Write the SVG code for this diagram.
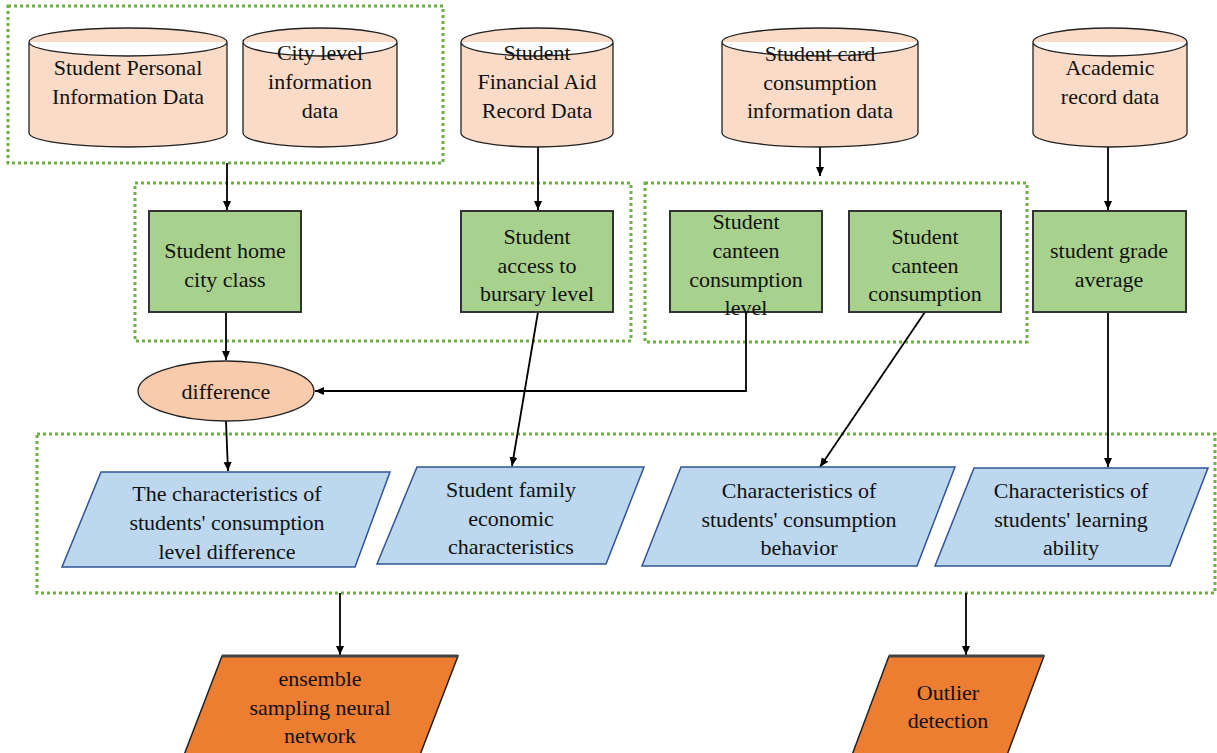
<svg xmlns="http://www.w3.org/2000/svg" width="1217" height="753" viewBox="0 0 1217 753">
<defs>
<marker id="ah" markerWidth="10" markerHeight="10" refX="9" refY="5" orient="auto" markerUnits="userSpaceOnUse">
<path d="M0,1 L9,5 L0,9 Z" fill="#000"/>
</marker>
<style>
text{font-family:"Liberation Serif","Times New Roman",serif;font-size:22px;fill:#111;text-anchor:middle}
.cyl{fill:#fadbc7;stroke:#222;stroke-width:1.3}
.grn{fill:#a9d18e;stroke:#333;stroke-width:2}
.blu{fill:#bdd7ee;stroke:#2f5597;stroke-width:1.5}
.org{fill:#ed7d31;stroke:#222;stroke-width:1.5}
.grp{fill:none;stroke:#70ad47;stroke-width:3;stroke-dasharray:3 3}
.ell{fill:#f8cbad;stroke:#222;stroke-width:1.3}
.cn{fill:none;stroke:#000;stroke-width:1.8}
</style>
</defs>
<rect width="1217" height="753" fill="#fff"/>

<g id="groups">
<rect class="grp" x="8" y="6" width="435" height="157"/>
<rect class="grp" x="135" y="183" width="496" height="158"/>
<rect class="grp" x="645" y="183" width="382" height="159"/>
<rect class="grp" x="37" y="434" width="1178" height="159"/>
</g>

<g id="connectors">
<line class="cn" x1="227" y1="163" x2="227" y2="210" marker-end="url(#ah)"/>
<line class="cn" x1="538" y1="147" x2="538" y2="210" marker-end="url(#ah)"/>
<line class="cn" x1="820" y1="147" x2="820" y2="176" marker-end="url(#ah)"/>
<line class="cn" x1="1108" y1="147" x2="1108" y2="210" marker-end="url(#ah)"/>
<line class="cn" x1="226" y1="312" x2="226" y2="360" marker-end="url(#ah)"/>
<polyline class="cn" points="746,312 746,391 315,391" marker-end="url(#ah)"/>
<line class="cn" x1="538" y1="312" x2="512" y2="466" marker-end="url(#ah)"/>
<line class="cn" x1="925" y1="312" x2="820" y2="467" marker-end="url(#ah)"/>
<line class="cn" x1="1108" y1="312" x2="1108" y2="467" marker-end="url(#ah)"/>
<line class="cn" x1="226" y1="421" x2="228" y2="471" marker-end="url(#ah)"/>
<line class="cn" x1="340" y1="593" x2="340" y2="655" marker-end="url(#ah)"/>
<line class="cn" x1="966" y1="593" x2="966" y2="655" marker-end="url(#ah)"/>
</g>

<g id="n-personal">
<path class="cyl" d="M29,42 A99,14 0 0 1 227,42 V133 A99,14 0 0 1 29,133 Z M29,42 A99,14 0 0 0 227,42"/>
<text x="128" y="75">Student Personal</text>
<text x="128" y="104">Information Data</text>
</g>
<g id="n-city">
<path class="cyl" d="M243,42 A77,14 0 0 1 397,42 V133 A77,14 0 0 1 243,133 Z M243,42 A77,14 0 0 0 397,42"/>
<text x="320" y="60">City level</text>
<text x="320" y="89">information</text>
<text x="320" y="118">data</text>
</g>
<g id="n-financial">
<path class="cyl" d="M461,42 A76,14 0 0 1 613,42 V133 A76,14 0 0 1 461,133 Z M461,42 A76,14 0 0 0 613,42"/>
<text x="537" y="60">Student</text>
<text x="537" y="89">Financial Aid</text>
<text x="537" y="118">Record Data</text>
</g>
<g id="n-card">
<path class="cyl" d="M722,42 A98,14 0 0 1 918,42 V133 A98,14 0 0 1 722,133 Z M722,42 A98,14 0 0 0 918,42"/>
<text x="820" y="61">Student card</text>
<text x="820" y="90">consumption</text>
<text x="820" y="118">information data</text>
</g>
<g id="n-academic">
<path class="cyl" d="M1033,42 A77,14 0 0 1 1187,42 V133 A77,14 0 0 1 1033,133 Z M1033,42 A77,14 0 0 0 1187,42"/>
<text x="1110" y="75">Academic</text>
<text x="1110" y="104">record data</text>
</g>

<g id="n-home">
<rect class="grn" x="149" y="211" width="152" height="101"/>
<text x="225" y="258">Student home</text>
<text x="225" y="287">city class</text>
</g>
<g id="n-bursary">
<rect class="grn" x="461" y="211" width="152" height="101"/>
<text x="537" y="244">Student</text>
<text x="537" y="273">access to</text>
<text x="537" y="301">bursary level</text>
</g>
<g id="n-canteen-level">
<rect class="grn" x="670" y="211" width="152" height="101"/>
<text x="746" y="229">Student</text>
<text x="746" y="258">canteen</text>
<text x="746" y="287">consumption</text>
<text x="746" y="315">level</text>
</g>
<g id="n-canteen">
<rect class="grn" x="849" y="211" width="152" height="101"/>
<text x="925" y="244">Student</text>
<text x="925" y="273">canteen</text>
<text x="925" y="301">consumption</text>
</g>
<g id="n-grade">
<rect class="grn" x="1033" y="211" width="153" height="101"/>
<text x="1109" y="258">student grade</text>
<text x="1109" y="287">average</text>
</g>

<g id="n-difference">
<ellipse class="ell" cx="226" cy="391" rx="88" ry="30"/>
<text x="226" y="399">difference</text>
</g>

<g id="n-level-diff">
<polygon class="blu" points="101,472 390,472 355,567 62,567"/>
<text x="227" y="501">The characteristics of</text>
<text x="227" y="530">students' consumption</text>
<text x="227" y="559">level difference</text>
</g>
<g id="n-family">
<polygon class="blu" points="417,467 644,467 606,564 377,564"/>
<text x="511" y="497">Student family</text>
<text x="511" y="526">economic</text>
<text x="511" y="554">characteristics</text>
</g>
<g id="n-behavior">
<polygon class="blu" points="681,467 955,467 917,566 642,566"/>
<text x="799" y="498">Characteristics of</text>
<text x="799" y="527">students' consumption</text>
<text x="799" y="555">behavior</text>
</g>
<g id="n-learning">
<polygon class="blu" points="974,468 1208,468 1170,566 935,566"/>
<text x="1071" y="498">Characteristics of</text>
<text x="1071" y="527">students' learning</text>
<text x="1071" y="555">ability</text>
</g>

<g id="n-ensemble">
<polygon class="org" points="222,656 458,656 420,755 184,755"/>
<line x1="222" y1="656" x2="458" y2="656" stroke="#444" stroke-width="3"/>
<text x="320" y="686">ensemble</text>
<text x="320" y="715">sampling neural</text>
<text x="320" y="743">network</text>
</g>
<g id="n-outlier">
<polygon class="org" points="889,656 1044,656 1007,755 852,755"/>
<line x1="889" y1="656" x2="1044" y2="656" stroke="#444" stroke-width="3"/>
<text x="948" y="700">Outlier</text>
<text x="948" y="728">detection</text>
</g>
</svg>
